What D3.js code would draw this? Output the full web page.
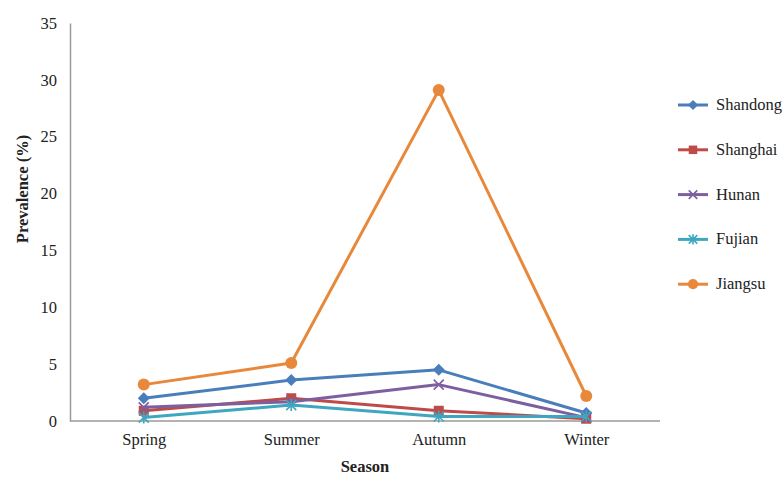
<!DOCTYPE html>
<html>
<head>
<meta charset="utf-8">
<script src="https://cdn.jsdelivr.net/npm/d3@7"></script>
<style>
  body { margin: 0; background: #fff; }
  svg text { font-family: "Liberation Serif", "Times New Roman", Times, "DejaVu Serif", serif !important; fill: #222; }
</style>
</head>
<body>
<div id="chart"></div>
<script>
const seasons = ["Spring", "Summer", "Autumn", "Winter"];
const provinces = ["Shandong", "Shanghai", "Hunan", "Fujian", "Jiangsu"];
const shandong = [2.0, 3.6, 4.5, 0.7];
const shanghai = [0.9, 2.0, 0.9, 0.2];
const hunan = [1.2, 1.7, 3.2, 0.3];
const fujian = [0.3, 1.4, 0.4, 0.4];
const jiangsu = [3.2, 5.1, 29.1, 2.2];
const yTicks = [0, 5, 10, 15, 20, 25, 30, 35];

const colors = ["#4A7EBB", "#BE4B48", "#7D5FA0", "#3FA6C0", "#E8883A"];
const markers = ["diamond", "square", "x", "star", "circle"];
const values = [shandong, shanghai, hunan, fujian, jiangsu];

const width = 783;
const height = 477;
const plotLeft = 70, plotRight = 660, plotTop = 23, plotBottom = 421;

const svg = d3.select("#chart")
  .append("svg")
  .attr("width", width)
  .attr("height", height);

const x = d3.scalePoint()
  .domain(seasons)
  .range([plotLeft, plotRight])
  .padding(0.5);

const y = d3.scaleLinear()
  .domain([0, 35])
  .range([plotBottom, plotTop]);

// y axis
const yAxis = svg.append("g")
  .attr("transform", `translate(${plotLeft},0)`)
  .call(d3.axisLeft(y).tickValues(yTicks).tickSize(0).tickPadding(13));
yAxis.attr("font-family", null);
yAxis.select(".domain").attr("stroke", "#9a9a9a").attr("stroke-width", 1.5);
yAxis.selectAll("text")
  .style("font-size", "16.5px")
  .attr("fill", "#222");

// x axis
const xAxis = svg.append("g")
  .attr("transform", `translate(0,${plotBottom})`)
  .call(d3.axisBottom(x).tickSize(0).tickPadding(12).tickSizeOuter(0));
xAxis.attr("font-family", null);
xAxis.select(".domain").attr("stroke", "#9a9a9a").attr("stroke-width", 1.5)
  .attr("d", `M${plotLeft},0H${plotRight}`);
xAxis.selectAll("text")
  .style("font-size", "16.5px")
  .attr("fill", "#222");

svg.append("text")
  .attr("transform", `translate(28,189) rotate(-90)`)
  .attr("text-anchor", "middle")
  .style("font-size", "16.5px")
  .style("font-weight", "bold")
  .text("Prevalence (%)");

svg.append("text")
  .attr("x", (plotLeft + plotRight) / 2)
  .attr("y", 472)
  .attr("text-anchor", "middle")
  .style("font-size", "16.5px")
  .style("font-weight", "bold")
  .text("Season");

function drawMarker(g, type, color, cx, cy, scale) {
  const s = scale || 1;
  if (type === "diamond") {
    g.append("path")
      .attr("d", `M${cx},${cy - 6 * s}L${cx + 6 * s},${cy}L${cx},${cy + 6 * s}L${cx - 6 * s},${cy}Z`)
      .attr("fill", color);
  } else if (type === "square") {
    g.append("rect")
      .attr("x", cx - 5 * s).attr("y", cy - 5 * s)
      .attr("width", 10 * s).attr("height", 10 * s)
      .attr("fill", color);
  } else if (type === "circle") {
    g.append("circle")
      .attr("cx", cx).attr("cy", cy).attr("r", 6 * s)
      .attr("fill", color);
  } else {
    const r = 5 * s;
    let d = `M${cx - r},${cy - r}L${cx + r},${cy + r}M${cx - r},${cy + r}L${cx + r},${cy - r}`;
    if (type === "star") d += `M${cx},${cy - r * 1.2}L${cx},${cy + r * 1.2}`;
    g.append("path")
      .attr("d", d)
      .attr("stroke", color)
      .attr("stroke-width", 1.6)
      .attr("fill", "none");
  }
}

const line = d3.line()
  .x((d, i) => x(seasons[i]))
  .y(d => y(d));

provinces.forEach((name, k) => {
  const g = svg.append("g");
  g.append("path")
    .datum(values[k])
    .attr("d", line)
    .attr("fill", "none")
    .attr("stroke", colors[k])
    .attr("stroke-width", 3)
    .attr("stroke-linejoin", "round");
  values[k].forEach((v, i) => drawMarker(g, markers[k], colors[k], x(seasons[i]), y(v)));
});

// legend
const legend = svg.append("g");
provinces.forEach((name, k) => {
  const ly = 105 + k * 44.8;
  legend.append("line")
    .attr("x1", 678).attr("x2", 708)
    .attr("y1", ly).attr("y2", ly)
    .attr("stroke", colors[k])
    .attr("stroke-width", 3);
  drawMarker(legend, markers[k], colors[k], 693, ly, 0.85);
  legend.append("text")
    .attr("x", 716)
    .attr("y", ly + 5)
    .style("font-size", "16.5px")
    .text(name);
});
</script>
</body>
</html>
